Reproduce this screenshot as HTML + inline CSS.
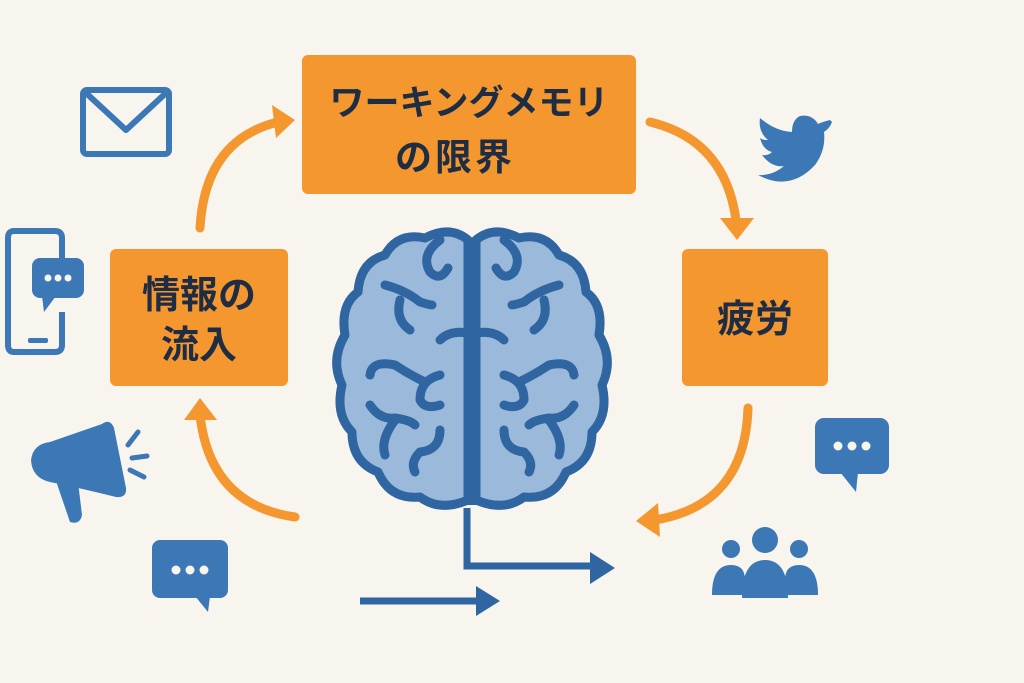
<!DOCTYPE html>
<html><head><meta charset="utf-8"><style>
html,body{margin:0;padding:0;background:#f8f4ee;}
svg{display:block}
.t{font-family:"Liberation Sans","Noto Sans CJK JP",sans-serif;font-weight:bold;fill:#1f2d44;}
</style></head><body>
<svg width="1024" height="683" viewBox="0 0 1024 683" xmlns="http://www.w3.org/2000/svg">
<rect width="1024" height="683" fill="#f8f4ee"/>
<rect x="302" y="55" width="334" height="139" rx="6" fill="#f5972f"/>
<text class="t" x="469" y="115" font-size="35" text-anchor="middle">ワーキングメモリ</text>
<text class="t" x="455" y="170" font-size="37" text-anchor="middle" letter-spacing="3">の限界</text>
<rect x="110" y="249" width="178" height="137" rx="6" fill="#f5972f"/>
<text class="t" x="199" y="308" font-size="38" text-anchor="middle">情報の</text>
<text class="t" x="199" y="358" font-size="38" text-anchor="middle">流入</text>
<rect x="682" y="249" width="146" height="137" rx="6" fill="#f5972f"/>
<text class="t" x="755" y="332" font-size="38" text-anchor="middle">疲労</text>
<g fill="none" stroke="#f5972f" stroke-width="9" stroke-linecap="round">
<path d="M200 228 Q205 140 278 122"/>
<path d="M650 122 Q725 140 736 220"/>
<path d="M748 408 Q745 505 655 520"/>
<path d="M295 517 Q210 505 200 415"/>
</g>
<g fill="#f5972f">
<polygon points="295,120 272,105 276,138"/>
<polygon points="737,240 720,218 754,218"/>
<polygon points="636,521 658,503 660,537"/>
<polygon points="200,398 184,420 217,420"/>
</g>
<g fill="none" stroke="#2f65a0" stroke-width="7">
<path d="M467 508 V566 H595"/>
<path d="M360 601 H482"/>
</g>
<polygon points="615,568 590,552 590,584" fill="#2f65a0"/>
<polygon points="500,601 476,586 476,616" fill="#2f65a0"/>
<g id="lh" fill="#9bbadb" stroke="#2f65a0" stroke-width="9" stroke-linejoin="round" stroke-linecap="round">
<path d="M468 240 Q450 225 425 238 Q398 232 385 255 Q360 262 358 292 Q340 305 345 335 Q330 360 342 385 Q335 415 352 432 Q352 462 378 472 Q390 500 420 497 Q440 512 468 500 Z"/>
<g fill="none">
<path d="M440 240 Q420 255 430 272 Q440 282 448 268"/>
<path d="M385 285 Q405 290 420 302 Q430 305 432 305"/>
<path d="M400 300 Q395 320 410 330"/>
<path d="M468 333 Q450 330 440 340"/>
<path d="M370 375 Q372 360 395 365 Q410 375 425 382"/>
<path d="M440 375 Q420 380 420 400 Q425 410 440 405"/>
<path d="M370 405 Q380 420 395 418 Q410 420 415 425"/>
<path d="M395 420 Q380 440 385 455"/>
<path d="M440 430 Q440 450 420 452 Q410 462 415 472"/>
</g>
</g>
<use href="#lh" transform="translate(944,0) scale(-1,1)"/>
<line x1="472" y1="238" x2="472" y2="505" stroke="#2f65a0" stroke-width="8"/>
<g fill="none" stroke="#3b78b5" stroke-width="6" stroke-linejoin="round">
<rect x="83" y="90" width="86" height="64" rx="4"/>
<path d="M86 93 L126 130 L166 93"/>
<path d="M62 283 V238 Q62 231 55 231 H14 Q8 231 8 238 V345 Q8 352 14 352 H55 Q62 352 62 345 V312"/>
</g>
<rect x="28" y="338" width="20" height="5" rx="2" fill="#3b78b5"/>
<g fill="#3b78b5">
<rect x="32" y="258" width="52" height="40" rx="8"/><polygon points="42,296 44,312 56,296"/>
<rect x="152" y="540" width="76" height="58" rx="8"/><polygon points="195,596 208,612 210,596"/>
<rect x="815" y="418" width="74" height="56" rx="9"/><polygon points="840,472 856,492 858,472"/>
<path d="M102 424 Q110 418 114 428 L126 488 Q127 498 116 497 Q80 488 50 482 Q32 478 31 460 Q33 444 50 442 Z"/>
<path d="M55 478 L78 482 L82 515 Q80 525 70 522 Z"/>
<path d="M830 120 Q822 122 818 124 Q812 114 800 116 Q792 120 792 132 Q775 131 760 118 Q758 132 768 140 Q762 140 760 138 Q763 150 772 152 Q768 156 762 155 Q772 168 784 166 Q772 176 758 175 Q790 192 815 165 Q826 150 824 132 Q830 128 832 122 Z"/>
<circle cx="765" cy="540" r="13"/><path d="M742 598 Q742 560 765 560 Q788 560 788 598 Z"/>
<circle cx="731" cy="549" r="9"/><path d="M712 595 Q712 565 731 565 Q745 565 745 580 V595 Z"/>
<circle cx="799" cy="549" r="9"/><path d="M818 595 Q818 565 799 565 Q785 565 785 580 V595 Z"/>
</g>
<g stroke="#3b78b5" stroke-width="5" stroke-linecap="round">
<line x1="128" y1="445" x2="138" y2="432"/><line x1="132" y1="458" x2="147" y2="456"/><line x1="130" y1="470" x2="144" y2="477"/>
</g>
<g fill="#f8f4ee">
<circle cx="48" cy="278" r="3.5"/><circle cx="58" cy="278" r="3.5"/><circle cx="68" cy="278" r="3.5"/>
<circle cx="176" cy="570" r="4.5"/><circle cx="190" cy="570" r="4.5"/><circle cx="204" cy="570" r="4.5"/>
<circle cx="838" cy="446" r="4.5"/><circle cx="852" cy="446" r="4.5"/><circle cx="866" cy="446" r="4.5"/>
</g>
</svg>
</body></html>
